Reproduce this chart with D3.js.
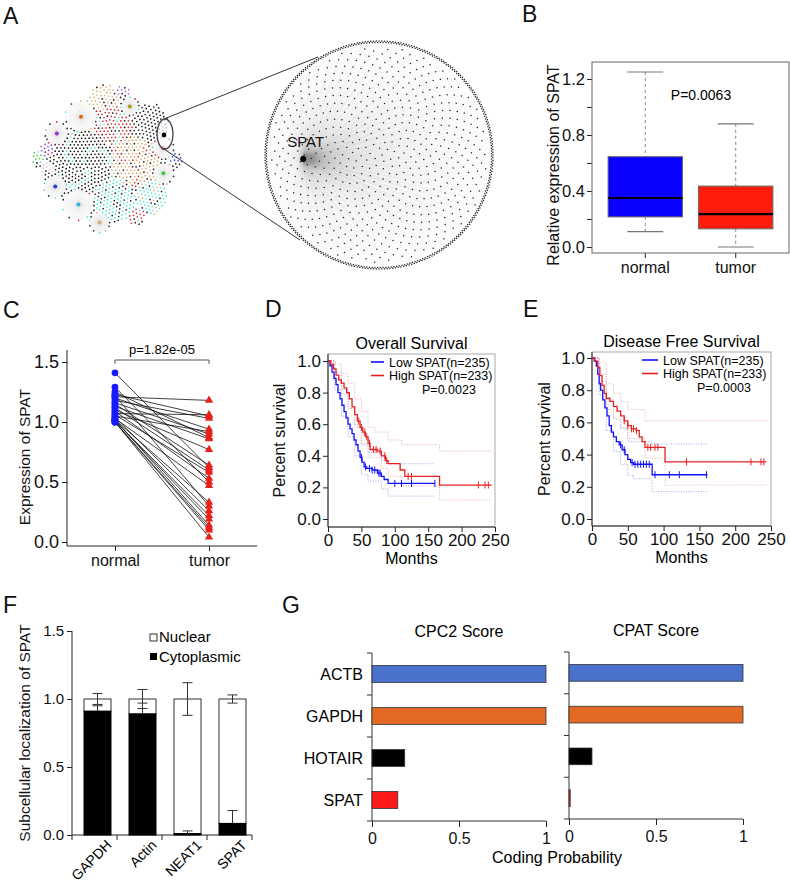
<!DOCTYPE html>
<html lang="en">
<head>
<meta charset="UTF-8">
<title>SPAT figure</title>
<style>
  body { margin: 0; background: #fff; }
  svg { display: block; font-family: Arial, "Liberation Sans", sans-serif; }
</style>
</head>
<body>
<svg id="fig" width="790" height="882"></svg>
<script src="https://cdn.jsdelivr.net/npm/d3@7"></script>
<script>
// ---------- data ----------
// A: co-expression network (cluster sizes / colours, hub = fan-shaped module)
const clusterSizes  = [300, 190, 150, 120, 110, 90, 120, 120, 60, 60, 50, 50, 45, 20, 18, 18, 15, 60, 25, 35, 20];
const clusterColors = ["#111111", "#dcae6a", "#52e2d2", "#d42a2a", "#222222", "#5fe6d6", "#e0661a", "#2fb6e0",
                       "#9a2fd6", "#2a3ad8", "#d81e1e", "#3ccc3c", "#d8b070", "#9040e0", "#3050e0", "#50d050",
                       "#b060f0", "#e2b878", "#e03030", "#a0a020", "#e8c4d4"];
const clusterHub    = [0, 0, 0, 0, 0, 0, 1, 1, 1, 1, 1, 1, 1, 0, 0, 0, 0, 0, 0, 1, 0];
const spatInnerNodes = 640;
const spatRingNodes = 520;

// B: boxplot
const boxGroups = ["normal", "tumor"];
const boxColors = ["#0a00ff", "#ff1c0c"];
const boxMin = [0.11, 0.0];
const boxQ1 = [0.215, 0.13];
const boxMedian = [0.35, 0.235];
const boxQ3 = [0.645, 0.435];
const boxMax = [1.25, 0.88];
const boxTicks = [0, 0.2, 0.4, 0.6, 0.8, 1.0, 1.2];

// C: paired samples
const pairNormal = [1.41, 1.29, 1.25, 1.23, 1.22, 1.21, 1.20, 1.18, 1.16, 1.15, 1.13, 1.12, 1.10,
                    1.09, 1.07, 1.06, 1.05, 1.04, 1.03, 1.02, 1.02, 1.01, 1.01, 1.00, 1.00, 1.00];
const pairTumor  = [0.62, 0.50, 0.87, 1.05, 0.30, 1.18, 0.94, 1.03, 0.90, 0.64, 0.86, 0.60, 0.77,
                    0.53, 1.06, 0.58, 0.92, 0.26, 0.47, 0.33, 0.14, 0.22, 0.19, 0.12, 0.04, 0.10];

// D: overall survival  [months, survival]
const osLow = [[0,1],[3,0.97],[6,0.93],[9,0.89],[12,0.85],[15,0.80],[18,0.76],[21,0.72],[24,0.68],[27,0.64],
  [30,0.60],[33,0.57],[36,0.54],[39,0.50],[42,0.47],[45,0.43],[48,0.39],[51,0.36],[54,0.33],[58,0.32],
  [66,0.31],[74,0.29],[80,0.27],[84,0.25],[90,0.225],[160,0.225]];
const osHigh = [[0,1],[4,0.98],[8,0.95],[12,0.91],[16,0.88],[20,0.86],[24,0.83],[28,0.80],[32,0.76],[36,0.71],
  [40,0.66],[44,0.62],[48,0.58],[52,0.55],[56,0.52],[60,0.48],[63,0.44],[74,0.43],[80,0.40],[86,0.37],
  [90,0.35],[108,0.31],[115,0.27],[167,0.215],[245,0.215]];
const osLowUp = [[0,1],[10,0.93],[20,0.82],[30,0.70],[40,0.60],[50,0.47],[60,0.42],[80,0.37],[90,0.35],[160,0.35]];
const osLowLo = [[0,1],[10,0.82],[20,0.65],[30,0.52],[40,0.40],[50,0.28],[60,0.24],[80,0.19],[90,0.145],[160,0.145]];
const osHighUp = [[0,1],[10,0.98],[20,0.92],[30,0.86],[40,0.76],[50,0.68],[60,0.58],[70,0.55],[90,0.50],[110,0.47],[167,0.43],[245,0.43]];
const osHighLo = [[0,1],[10,0.88],[20,0.79],[30,0.70],[40,0.58],[50,0.48],[60,0.39],[80,0.32],[90,0.27],[110,0.21],[167,0.12],[245,0.12]];
const osLowCens = [50, 56, 62, 66, 70, 76, 78, 100, 110, 125, 160];
const osHighCens = [46, 50, 55, 58, 62, 68, 72, 78, 85, 88, 120, 125, 225, 235, 240];

// E: disease free survival
const dfsLow = [[0,1],[3,0.98],[6,0.95],[8,0.90],[10,0.84],[12,0.80],[15,0.74],[18,0.69],[21,0.64],[24,0.58],
  [27,0.54],[30,0.51],[34,0.48],[38,0.46],[42,0.43],[46,0.40],[50,0.37],[54,0.35],[58,0.34],[84,0.275],[161,0.275]];
const dfsHigh = [[0,1],[4,0.98],[8,0.94],[11,0.89],[14,0.83],[17,0.78],[20,0.75],[25,0.73],[30,0.70],[35,0.67],
  [40,0.64],[45,0.61],[50,0.58],[55,0.56],[62,0.55],[66,0.51],[70,0.48],[74,0.445],[102,0.355],[243,0.355]];
const dfsLowUp = [[0,1],[10,0.90],[20,0.74],[30,0.62],[40,0.56],[50,0.48],[84,0.466],[161,0.466]];
const dfsLowLo = [[0,1],[10,0.77],[20,0.55],[30,0.42],[40,0.34],[50,0.27],[58,0.25],[84,0.17],[161,0.17]];
const dfsHighUp = [[0,1],[10,0.97],[20,0.84],[30,0.78],[40,0.73],[50,0.68],[74,0.61],[245,0.61]];
const dfsHighLo = [[0,1],[10,0.85],[20,0.68],[30,0.63],[40,0.57],[50,0.50],[74,0.38],[102,0.21],[245,0.21]];
const dfsLowCens = [40, 45, 56, 60, 64, 68, 72, 76, 80, 88, 108, 122, 160];
const dfsHighCens = [45, 50, 55, 58, 62, 78, 82, 88, 92, 132, 222, 236, 240];

// F: subcellular fractionation
const fracGenes = ["GAPDH", "Actin", "NEAT1", "SPAT"];
const fracCyto = [0.91, 0.89, 0.01, 0.085];
const fracNuclear = [0.09, 0.11, 0.99, 0.915];
const fracNucSd = [0.04, 0.07, 0.12, 0.03];
const fracCytoSd = [0.04, 0.08, 0.02, 0.095];

// G: coding potential
const codingGenes = ["ACTB", "GAPDH", "HOTAIR", "SPAT"];
const codingColors = ["#4a72cc", "#e36a22", "#000000", "#ff1a1a"];
const cpc2Scores = [1.0, 1.0, 0.188, 0.148];
const cpatScores = [1.0, 1.0, 0.132, 0.007];

// ---------- drawing ----------
const FONT = "Arial, 'Liberation Sans', sans-serif";
const svg = d3.select("#fig");
svg.append("rect").attr("width", 790).attr("height", 882).attr("fill", "#fff");

function panelLabel(t, x, y) {
  svg.append("text").attr("x", x).attr("y", y).attr("font-size", 23).attr("fill", "#111").text(t);
}
function fixAxis(g, fs) {
  g.attr("font-family", FONT).attr("font-size", fs);
  g.selectAll(".tick text").attr("fill", "#111");
  g.selectAll(".tick line").attr("stroke", "#222");
  g.select(".domain").remove();
}
function yLabel(t, x, y, fs) {
  svg.append("text").attr("transform", `translate(${x},${y}) rotate(-90)`)
    .attr("text-anchor", "middle").attr("font-size", fs).attr("fill", "#111").text(t);
}

panelLabel("A", 3, 24); panelLabel("B", 522, 22); panelLabel("C", 3, 318); panelLabel("D", 265, 317);
panelLabel("E", 523, 317); panelLabel("F", 3, 613); panelLabel("G", 282, 613);

// ----- A: network -----
const golden = Math.PI * (3 - Math.sqrt(5));
const netA = svg.append("g");
const root = d3.hierarchy({ children: clusterSizes.map((v, i) => ({ i, value: v })) })
  .sum(d => d.value || 0).sort((a, b) => b.value - a.value);
d3.pack().size([150, 150]).padding(0.5)(root);
const ax = d3.scaleLinear().domain([0, 150]).range([33, 183]);
const ay = d3.scaleLinear().domain([0, 150]).range([85, 235]);
const edgesA = netA.append("g"), dotsA = netA.append("g");
const nodesA = [];
root.leaves().forEach(leaf => {
  const i = leaf.data.i, cx = ax(leaf.x), cy = ay(leaf.y), r = leaf.r;
  if (clusterHub[i]) {
    const nFan = 44;
    for (let k = 0; k < nFan; k++) {
      const a = k * 2 * Math.PI / nFan;
      edgesA.append("line").attr("x1", cx).attr("y1", cy)
        .attr("x2", cx + r * 0.95 * Math.cos(a)).attr("y2", cy + r * 0.95 * Math.sin(a))
        .attr("stroke", "#d0d0d0").attr("stroke-width", 0.5).attr("opacity", 0.5);
    }
    // the hub itself acts as a fixed obstacle that keeps its fan open
    nodesA.push({ x: cx, y: cy, fx: cx, fy: cy, rad: r * 0.8, c: clusterColors[i], hub: true });
    for (let k = 0; k < 10; k++) {
      const a = k * 2 * Math.PI / 10 + 0.3;
      const px = cx + r * 0.95 * Math.cos(a), py = cy + r * 0.95 * Math.sin(a);
      nodesA.push({ x: px, y: py, tx: px, ty: py, rad: 1.9, c: k % 3 ? clusterColors[(i + k) % 6] : "#222" });
    }
  } else {
    const n = Math.max(6, Math.round(Math.PI * r * r / 10));
    for (let k = 0; k < n; k++) {
      const rr = r * 0.95 * Math.sqrt((k + 0.5) / n), a = k * golden;
      let c = clusterColors[i];
      if (k % 7 === 3) c = clusterColors[(i + 2) % 6];
      else if (k % 5 === 1) c = "#1a1a1a";
      nodesA.push({ x: cx + rr * Math.cos(a), y: cy + rr * Math.sin(a), tx: cx, ty: cy, rad: 1.9, c });
    }
  }
});
// relax the modules so they blend like a force layout, kept inside the disc
function containA(alpha) {
  nodesA.forEach(n => {
    if (n.hub) return;
    const dx = n.x - 108, dy = n.y - 160, d = Math.hypot(dx, dy);
    if (d > 74) { n.vx -= dx / d * (d - 74) * alpha; n.vy -= dy / d * (d - 74) * alpha; }
  });
}
const simA = d3.forceSimulation(nodesA)
  .force("x", d3.forceX(d => d.tx || d.x).strength(d => d.hub ? 0 : 0.02))
  .force("y", d3.forceY(d => d.ty || d.y).strength(d => d.hub ? 0 : 0.02))
  .force("collide", d3.forceCollide(d => d.rad).iterations(2))
  .force("contain", containA)
  .stop();
for (let t = 0; t < 200; t++) simA.tick();
dotsA.selectAll("circle.n").data(nodesA).join("circle").attr("class", "n")
  .attr("cx", d => d.x).attr("cy", d => d.y).attr("r", d => d.hub ? 2 : 0.85).attr("fill", d => d.c);

// selected node and zoom callout
netA.append("ellipse").attr("cx", 165).attr("cy", 134).attr("rx", 8).attr("ry", 15)
  .attr("fill", "#fff").attr("fill-opacity", 0.7).attr("stroke", "#3a4656").attr("stroke-width", 1.3);
netA.append("circle").attr("cx", 164).attr("cy", 135).attr("r", 2.4).attr("fill", "#000");
netA.append("line").attr("x1", 164).attr("y1", 119).attr("x2", 318).attr("y2", 57).attr("stroke", "#333").attr("stroke-width", 1);
netA.append("line").attr("x1", 164).attr("y1", 149).attr("x2", 300).attr("y2", 240).attr("stroke", "#333").attr("stroke-width", 1);

// big circle: SPAT and its neighbours
const bigR = 114;
const bx = d3.scaleLinear().domain([-1, 1]).range([379 - bigR, 379 + bigR]);
const by = d3.scaleLinear().domain([-1, 1]).range([155 - bigR, 155 + bigR]);
const spat = [bx(-0.665), by(0.035)];
const bigNodes = [];
for (let k = 0; k < spatInnerNodes; k++) {
  const rr = 0.95 * Math.sqrt((k + 0.5) / spatInnerNodes), a = k * golden;
  bigNodes.push([bx(rr * Math.cos(a)), by(rr * Math.sin(a))]);
}
for (let k = 0; k < spatRingNodes; k++) {
  const rr = k % 2 ? 0.988 : 1.0, a = k * 2 * Math.PI / spatRingNodes;
  bigNodes.push([bx(rr * Math.cos(a)), by(rr * Math.sin(a))]);
}
const bigG = svg.append("g");
bigG.append("circle").attr("cx", bx(0)).attr("cy", by(0)).attr("r", bigR).attr("fill", "#fff");
bigG.append("g").selectAll("line").data(bigNodes).join("line")
  .attr("x1", spat[0]).attr("y1", spat[1]).attr("x2", d => d[0]).attr("y2", d => d[1])
  .attr("stroke", "#999").attr("stroke-width", 0.35).attr("opacity", 0.09);
bigG.append("g").selectAll("circle").data(bigNodes).join("circle")
  .attr("cx", d => d[0]).attr("cy", d => d[1]).attr("r", 0.75).attr("fill", "#222");
bigG.append("circle").attr("cx", spat[0]).attr("cy", spat[1]).attr("r", 3).attr("fill", "#000");
bigG.append("text").attr("x", spat[0] - 16).attr("y", spat[1] - 12).attr("font-size", 15).attr("fill", "#111").text("SPAT");

// ----- B: boxplot -----
const bY = d3.scaleLinear().domain([0, 1.2]).range([247, 79]);
const bX = d3.scaleBand().domain(boxGroups).range([592, 789]).paddingInner(0.178).paddingOuter(0.178);
svg.append("g").attr("transform", "translate(592,0)")
  .call(d3.axisLeft(bY).tickValues(boxTicks).tickSize(5).tickPadding(2)
    .tickFormat(d => Math.round(d * 10) % 4 === 0 ? d3.format(".1f")(d) : ""))
  .call(g => fixAxis(g, 16.5));
svg.append("g").attr("transform", "translate(0,253)")
  .call(d3.axisBottom(bX).tickSize(5).tickPadding(4)).call(g => fixAxis(g, 16));
boxGroups.forEach((g, i) => {
  const x0 = bX(g), w = bX.bandwidth(), cx = x0 + w / 2;
  svg.append("line").attr("x1", cx).attr("x2", cx).attr("y1", bY(boxMax[i])).attr("y2", bY(boxQ3[i]))
    .attr("stroke", "#888").attr("stroke-dasharray", "3,3");
  svg.append("line").attr("x1", cx).attr("x2", cx).attr("y1", bY(boxQ1[i])).attr("y2", bY(boxMin[i]))
    .attr("stroke", "#888").attr("stroke-dasharray", "3,3");
  [boxMax[i], boxMin[i]].forEach(v => svg.append("line").attr("x1", cx - 18).attr("x2", cx + 18)
    .attr("y1", bY(v)).attr("y2", bY(v)).attr("stroke", "#777").attr("stroke-width", 1.2));
  svg.append("rect").attr("x", x0).attr("y", bY(boxQ3[i])).attr("width", w).attr("height", bY(boxQ1[i]) - bY(boxQ3[i]))
    .attr("fill", boxColors[i]).attr("stroke", "#666");
  svg.append("line").attr("x1", x0).attr("x2", x0 + w).attr("y1", bY(boxMedian[i])).attr("y2", bY(boxMedian[i]))
    .attr("stroke", "#000").attr("stroke-width", 2.2);
});
svg.append("rect").attr("x", 592).attr("y", 62).attr("width", 197).attr("height", 191)
  .attr("fill", "none").attr("stroke", "#666");
svg.append("text").attr("x", 701).attr("y", 100).attr("text-anchor", "middle").attr("font-size", 14).text("P=0.0063");
yLabel("Relative expression of SPAT", 559, 165, 16);

// ----- C: paired plot -----
const cY = d3.scaleLinear().domain([0, 1.5]).range([542, 362]);
const cX = d3.scalePoint().domain(["normal", "tumor"]).range([67, 257]).padding(0.51);
svg.append("g").attr("transform", "translate(67,0)")
  .call(d3.axisLeft(cY).tickValues([0, 0.5, 1, 1.5]).tickSize(5).tickPadding(3).tickFormat(d3.format(".1f")))
  .call(g => fixAxis(g, 18));
svg.append("g").attr("transform", "translate(0,546)")
  .call(d3.axisBottom(cX).tickSize(5).tickPadding(4)).call(g => fixAxis(g, 16));
svg.append("line").attr("x1", 67).attr("x2", 67).attr("y1", 350).attr("y2", 546).attr("stroke", "#222");
svg.append("line").attr("x1", 67).attr("x2", 257).attr("y1", 546).attr("y2", 546).attr("stroke", "#222");
pairNormal.forEach((v, i) => svg.append("line")
  .attr("x1", cX("normal")).attr("y1", cY(v)).attr("x2", cX("tumor")).attr("y2", cY(pairTumor[i]))
  .attr("stroke", "#111").attr("stroke-width", 0.8));
svg.append("g").selectAll("circle").data(pairNormal).join("circle")
  .attr("cx", cX("normal")).attr("cy", d => cY(d)).attr("r", 3.4).attr("fill", "#1a1aff");
svg.append("g").selectAll("path").data(pairTumor).join("path")
  .attr("d", d3.symbol().type(d3.symbolTriangle).size(30))
  .attr("transform", d => `translate(${cX("tumor")},${cY(d)})`).attr("fill", "#e8201a");
svg.append("path").attr("d", `M${cX("normal")},364V360H${cX("tumor")}V364`).attr("fill", "none").attr("stroke", "#555");
svg.append("text").attr("x", (cX("normal") + cX("tumor")) / 2).attr("y", 354).attr("text-anchor", "middle")
  .attr("font-size", 13).text("p=1.82e-05");
yLabel("Expression of SPAT", 30, 457, 15.5);

// ----- D / E: Kaplan-Meier -----
function stepAt(curve, t) {
  let v = curve[0][1];
  curve.forEach(p => { if (p[0] <= t) v = p[1]; });
  return v;
}
function kmPanel(c) {
  const x = d3.scaleLinear().domain([0, 250]).range([c.left, c.right]);
  const y = d3.scaleLinear().domain([0, 1]).range([c.y0, c.y1]);
  const g = svg.append("g");
  g.append("rect").attr("x", c.left).attr("y", c.top).attr("width", c.right - c.left).attr("height", c.bottom - c.top)
    .attr("fill", "none").attr("stroke", "#aaa");
  g.append("g").attr("transform", `translate(${c.left},0)`)
    .call(d3.axisLeft(y).tickValues([0, 0.2, 0.4, 0.6, 0.8, 1]).tickSize(5).tickPadding(2).tickFormat(d3.format(".1f")))
    .call(a => fixAxis(a, 17));
  g.append("g").attr("transform", `translate(0,${c.bottom})`)
    .call(d3.axisBottom(x).tickValues([0, 50, 100, 150, 200, 250]).tickSize(5).tickPadding(2))
    .call(a => fixAxis(a, 17));
  g.append("line").attr("x1", c.left).attr("x2", c.left).attr("y1", c.top).attr("y2", c.bottom).attr("stroke", "#222");
  g.append("line").attr("x1", c.left).attr("x2", c.right).attr("y1", c.bottom).attr("y2", c.bottom).attr("stroke", "#222");
  const line = d3.line().x(d => x(d[0])).y(d => y(d[1])).curve(d3.curveStepAfter);
  c.ci.forEach(([curve, col]) => g.append("path").attr("d", line(curve)).attr("fill", "none")
    .attr("stroke", col).attr("stroke-width", 0.9).attr("stroke-dasharray", "1,1.5"));
  c.curves.forEach(([curve, col, cens]) => {
    g.append("path").attr("d", line(curve)).attr("fill", "none").attr("stroke", col).attr("stroke-width", 1.3);
    cens.forEach(t => g.append("line").attr("x1", x(t)).attr("x2", x(t))
      .attr("y1", y(stepAt(curve, t)) - 3.5).attr("y2", y(stepAt(curve, t)) + 3.5).attr("stroke", col).attr("stroke-width", 1));
  });
  const mid = (c.left + c.right) / 2;
  g.append("text").attr("x", mid).attr("y", c.top - 5).attr("text-anchor", "middle").attr("font-size", 16).text(c.title);
  g.append("text").attr("x", mid).attr("y", c.bottom + 37).attr("text-anchor", "middle").attr("font-size", 16).text("Months");
  yLabel("Percent survival", c.ylabX, (c.top + c.bottom) / 2, 16);
  [["#1010ff", "Low SPAT(n=235)", c.leg[2]], ["#e82020", "High SPAT(n=233)", c.leg[2] + 13.5]].forEach(([col, t, ly]) => {
    g.append("line").attr("x1", c.leg[0]).attr("x2", c.leg[1]).attr("y1", ly).attr("y2", ly).attr("stroke", col).attr("stroke-width", 1.6);
    g.append("text").attr("x", c.leg[1] + 5).attr("y", ly + 4.5).attr("font-size", 12.5).text(t);
  });
  g.append("text").attr("x", c.pX).attr("y", c.leg[2] + 31.5).attr("font-size", 12.5).text(c.p);
}
kmPanel({ left: 328, right: 495, top: 354, bottom: 527, y0: 519, y1: 361, title: "Overall Survival",
  ylabX: 285, leg: [371, 384, 362], pX: 422, p: "P=0.0023",
  ci: [[osLowUp, "#9a9ae0"], [osLowLo, "#9a9ae0"], [osHighUp, "#e8a8a8"], [osHighLo, "#e8a8a8"]],
  curves: [[osLow, "#1010ff", osLowCens], [osHigh, "#e82020", osHighCens]] });
kmPanel({ left: 592, right: 771, top: 352, bottom: 526, y0: 519, y1: 358, title: "Disease Free Survival",
  ylabX: 550, leg: [642, 658, 360], pX: 697, p: "P=0.0003",
  ci: [[dfsLowUp, "#9a9ae0"], [dfsLowLo, "#9a9ae0"], [dfsHighUp, "#e8a8a8"], [dfsHighLo, "#e8a8a8"]],
  curves: [[dfsLow, "#1010ff", dfsLowCens], [dfsHigh, "#e82020", dfsHighCens]] });

// ----- F: fractionation -----
const fY = d3.scaleLinear().domain([0, 1.5]).range([835, 631]);
const fX = d3.scaleBand().domain(fracGenes).range([75, 255]).paddingInner(0.4).paddingOuter(0.2);
const fXb = d3.scaleBand().domain(fracGenes).range([72, 252]);
svg.append("g").attr("transform", "translate(72,0)")
  .call(d3.axisLeft(fY).tickValues([0, 0.5, 1, 1.5]).tickSize(5).tickPadding(3).tickFormat(d3.format(".1f")))
  .call(g => fixAxis(g, 15));
svg.append("line").attr("x1", 72).attr("x2", 72).attr("y1", 631).attr("y2", 835).attr("stroke", "#222");
svg.append("line").attr("x1", 72).attr("x2", 252).attr("y1", 835).attr("y2", 835).attr("stroke", "#222");
fracGenes.map(d => fXb(d)).concat([252]).forEach(t => svg.append("line")
  .attr("x1", t).attr("x2", t).attr("y1", 835).attr("y2", 840).attr("stroke", "#222"));
fracGenes.forEach((gName, i) => {
  const x0 = fX(gName), w = fX.bandwidth(), cx = x0 + w / 2;
  const top = fracCyto[i] + fracNuclear[i];
  svg.append("rect").attr("x", x0).attr("y", fY(top)).attr("width", w).attr("height", fY(fracCyto[i]) - fY(top))
    .attr("fill", "#fff").attr("stroke", "#333");
  svg.append("rect").attr("x", x0).attr("y", fY(fracCyto[i])).attr("width", w).attr("height", fY(0) - fY(fracCyto[i]))
    .attr("fill", "#000").attr("stroke", "#000");
  svg.append("line").attr("x1", cx).attr("x2", cx).attr("y1", fY(top - fracNucSd[i])).attr("y2", fY(top + fracNucSd[i])).attr("stroke", "#333");
  [top - fracNucSd[i], top + fracNucSd[i]].forEach(v => svg.append("line").attr("x1", cx - 5).attr("x2", cx + 5)
    .attr("y1", fY(v)).attr("y2", fY(v)).attr("stroke", "#333"));
  const ce = fracCyto[i] + fracCytoSd[i];
  svg.append("line").attr("x1", cx).attr("x2", cx).attr("y1", fY(fracCyto[i])).attr("y2", fY(ce)).attr("stroke", "#333");
  svg.append("line").attr("x1", cx - 5).attr("x2", cx + 5).attr("y1", fY(ce)).attr("y2", fY(ce)).attr("stroke", "#333");
  svg.append("text").attr("transform", `translate(${cx + 8},839) rotate(-45)`).attr("text-anchor", "end")
    .attr("dy", "0.7em").attr("font-size", 14).text(gName);
});
svg.append("rect").attr("x", 150).attr("y", 634).attr("width", 7).attr("height", 7).attr("fill", "#fff").attr("stroke", "#333");
svg.append("text").attr("x", 159).attr("y", 642).attr("font-size", 15).text("Nuclear");
svg.append("rect").attr("x", 150).attr("y", 653).attr("width", 7).attr("height", 7).attr("fill", "#000");
svg.append("text").attr("x", 159).attr("y", 662).attr("font-size", 15).text("Cytoplasmic");
yLabel("Subcellular localization of SPAT", 30, 733, 15.5);

// ----- G: coding potential -----
function codingPanel(scores, x0, x1, yTop, yBot, labels, title) {
  const yB = d3.scaleBand().domain(codingGenes).range([yTop, yBot]);
  const xS = d3.scaleLinear().domain([0, 1]).range([x0, x1]);
  const g = svg.append("g");
  g.append("line").attr("x1", x0).attr("x2", x0).attr("y1", yTop).attr("y2", yBot).attr("stroke", "#333");
  g.append("line").attr("x1", x0).attr("x2", x1).attr("y1", yBot).attr("y2", yBot).attr("stroke", "#333");
  codingGenes.map(d => yB(d)).concat([yBot]).forEach(t => g.append("line")
    .attr("x1", x0 - 5).attr("x2", x0).attr("y1", t).attr("y2", t).attr("stroke", "#333"));
  g.append("g").attr("transform", `translate(0,${yBot})`)
    .call(d3.axisBottom(xS).tickValues([0, 0.5, 1]).tickSize(6).tickPadding(6).tickFormat(d => d === 0.5 ? "0.5" : d3.format("d")(d)))
    .call(a => fixAxis(a, 16));
  codingGenes.forEach((d, i) => {
    const h = yB.bandwidth() * 0.4;
    g.append("rect").attr("x", x0).attr("y", yB(d) + (yB.bandwidth() - h) / 2)
      .attr("width", xS(scores[i]) - x0).attr("height", h)
      .attr("fill", codingColors[i]).attr("stroke", "#333").attr("stroke-width", 0.8);
    if (labels) g.append("text").attr("x", x0 - 9).attr("y", yB(d) + yB.bandwidth() / 2 + 6)
      .attr("text-anchor", "end").attr("font-size", 16).text(d);
  });
  g.append("text").attr("x", (x0 + x1) / 2).attr("y", yTop - 16).attr("text-anchor", "middle").attr("font-size", 16).text(title);
}
codingPanel(cpc2Scores, 372, 546, 653, 821, true, "CPC2 Score");
codingPanel(cpatScores, 569, 743, 652, 819, false, "CPAT Score");
svg.append("text").attr("x", 557).attr("y", 863).attr("text-anchor", "middle").attr("font-size", 16).text("Coding Probability");
</script>
</body>
</html>
